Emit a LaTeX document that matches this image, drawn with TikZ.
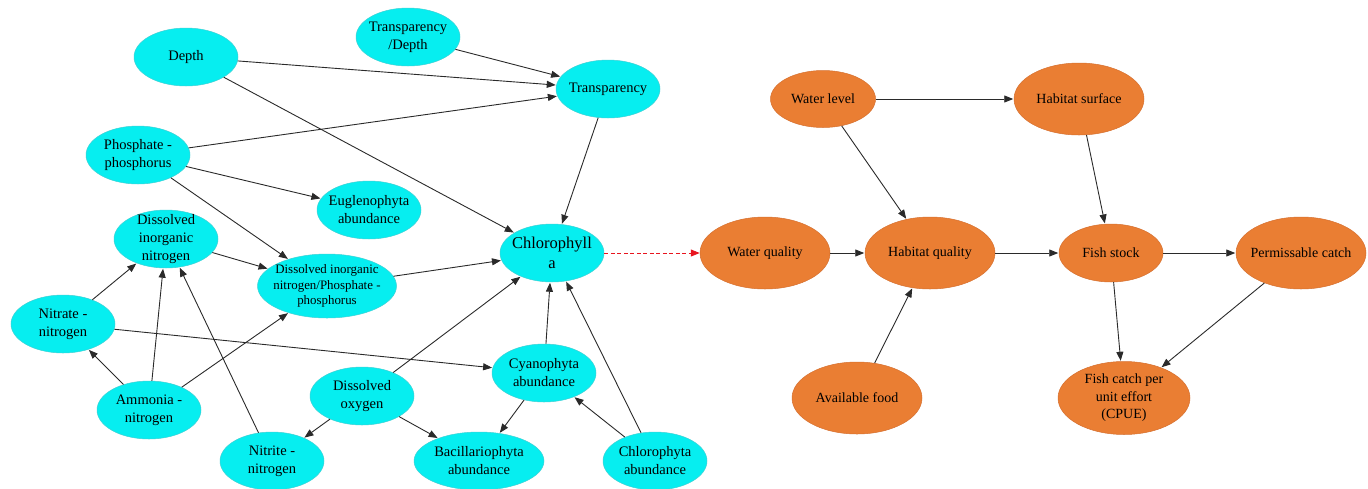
\documentclass[tikz,border=0pt]{standalone}
\usepackage{fontspec}
\setmainfont{Liberation Serif}
\usetikzlibrary{shapes.geometric,arrows.meta}
\definecolor{cyanfill}{HTML}{06EEF0}
\definecolor{cyanline}{HTML}{3FD0D4}
\definecolor{orangefill}{HTML}{EA7E33}
\definecolor{orangeline}{HTML}{D57030}
\definecolor{edgecol}{HTML}{2A2A2A}
\definecolor{redcol}{HTML}{E8141E}
\tikzset{
  x=1pt, y=-1pt,
  cy/.style={ellipse, draw=cyanline, line width=0.5pt, fill=cyanfill, inner sep=0pt,
    minimum width=104pt, minimum height=58pt},
  og/.style={ellipse, draw=orangeline, line width=0.5pt, fill=orangefill, inner sep=0pt,
    minimum width=130pt, minimum height=72pt},
  txt/.style={align=center, inner sep=0pt, font=\fontsize{14.5}{18}\selectfont, text=black},
  smalltxt/.style={align=center, inner sep=0pt, font=\fontsize{12.9}{15.5}\selectfont, text=black},
  bigtxt/.style={align=center, inner sep=0pt, font=\fontsize{16.5}{20}\selectfont, text=black},
  otxt/.style={align=center, inner sep=0pt, font=\fontsize{14}{17.5}\selectfont, text=black},
  link/.style={draw=edgecol, line width=0.9pt, -{Triangle[length=9pt,width=7pt]}, shorten >=0.5pt},
  redlink/.style={draw=redcol, line width=0.8pt, dash pattern=on 4pt off 2.5pt,
    -{Triangle[length=9pt,width=7pt]}}
}
\begin{document}
\begin{tikzpicture}
\useasboundingbox (0,0) rectangle (1368,488);

% water-quality sub-network
\node[cy, label={[txt]center:Depth}] (depth) at (186,57) {};
\node[cy, label={[txt]center:Transparency\\/Depth}] (trdepth) at (408,37) {};
\node[cy, label={[txt]center:Transparency}] (transp) at (608,89) {};
\node[cy, label={[txt]center:Phosphate -\\phosphorus}] (phos) at (138,155) {};
\node[cy, label={[txt]center:Euglenophyta\\abundance}] (eugl) at (369,210) {};
\node[cy, label={[txt]center:Dissolved\\inorganic\\nitrogen}] (din) at (166,239) {};
\node[cy, minimum width=139pt, minimum height=64pt,
  label={[smalltxt]center:Dissolved inorganic\\nitrogen/Phosphate -\\phosphorus}] (dinpp) at (327,286) {};
\node[cy, label={[bigtxt]center:Chlorophyll\\a}] (chla) at (552,253) {};
\node[cy, label={[txt]center:Nitrate -\\nitrogen}] (nitrate) at (63,324) {};
\node[cy, label={[txt]center:Ammonia -\\nitrogen}] (ammonia) at (149,410) {};
\node[cy, label={[txt]center:Nitrite -\\nitrogen}] (nitrite) at (272,461) {};
\node[cy, label={[txt]center:Dissolved\\oxygen}] (oxygen) at (362,396) {};
\node[cy, minimum width=130pt, label={[txt]center:Bacillariophyta\\abundance}] (bacil) at (479,461) {};
\node[cy, label={[txt]center:Cyanophyta\\abundance}] (cyano) at (544,373) {};
\node[cy, label={[txt]center:Chlorophyta\\abundance}] (chloro) at (655,461) {};

% fishery sub-network
\node[og, minimum width=105pt, minimum height=57pt, label={[otxt]center:Water level}] (wlevel) at (823,99) {};
\node[og, label={[otxt]center:Habitat surface}] (hsurf) at (1079,99) {};
\node[og, label={[otxt]center:Water quality}] (wqual) at (765,253) {};
\node[og, label={[otxt]center:Habitat quality}] (hqual) at (930,253) {};
\node[og, minimum width=104pt, minimum height=58pt, label={[otxt]center:Fish stock}] (fstock) at (1111,253) {};
\node[og, label={[otxt]center:Permissable catch}] (pcatch) at (1301,253) {};
\node[og, label={[otxt]center:Available food}] (food) at (857,398) {};
\node[og, minimum width=132pt, minimum height=73pt,
  label={[otxt]center:Fish catch per\\unit effort\\(CPUE)}] (cpue) at (1124,398) {};

% connectors of the water-quality sub-network
\draw[link] (depth) -- (transp);
\draw[link] (depth) -- (chla);
\draw[link] (trdepth) -- (transp);
\draw[link] (phos) -- (transp);
\draw[link] (phos) -- (eugl);
\draw[link] (phos) -- (dinpp);
\draw[link] (transp) -- (chla);
\draw[link] (din) -- (dinpp);
\draw[link] (dinpp) -- (chla);
\draw[link] (nitrate) -- (din);
\draw[link] (nitrate) -- (cyano);
\draw[link] (ammonia) -- (nitrate);
\draw[link] (ammonia) -- (din);
\draw[link] (ammonia) -- (dinpp);
\draw[link] (nitrite) -- (din);
\draw[link] (oxygen) -- (chla);
\draw[link] (oxygen) -- (nitrite);
\draw[link] (oxygen) -- (bacil);
\draw[link] (cyano) -- (chla);
\draw[link] (cyano) -- (bacil);
\draw[link] (chloro) -- (cyano);
\draw[link] (chloro) -- (chla);

% link between the two sub-networks
\draw[redlink] (chla) -- (wqual);

% connectors of the fishery sub-network
\draw[link] (wlevel) -- (hsurf);
\draw[link] (wlevel) -- (hqual);
\draw[link] (hsurf) -- (fstock);
\draw[link] (wqual) -- (hqual);
\draw[link] (hqual) -- (fstock);
\draw[link] (food) -- (hqual);
\draw[link] (fstock) -- (pcatch);
\draw[link] (fstock) -- (cpue);
\draw[link] (pcatch) -- (cpue);
\end{tikzpicture}
\end{document}
